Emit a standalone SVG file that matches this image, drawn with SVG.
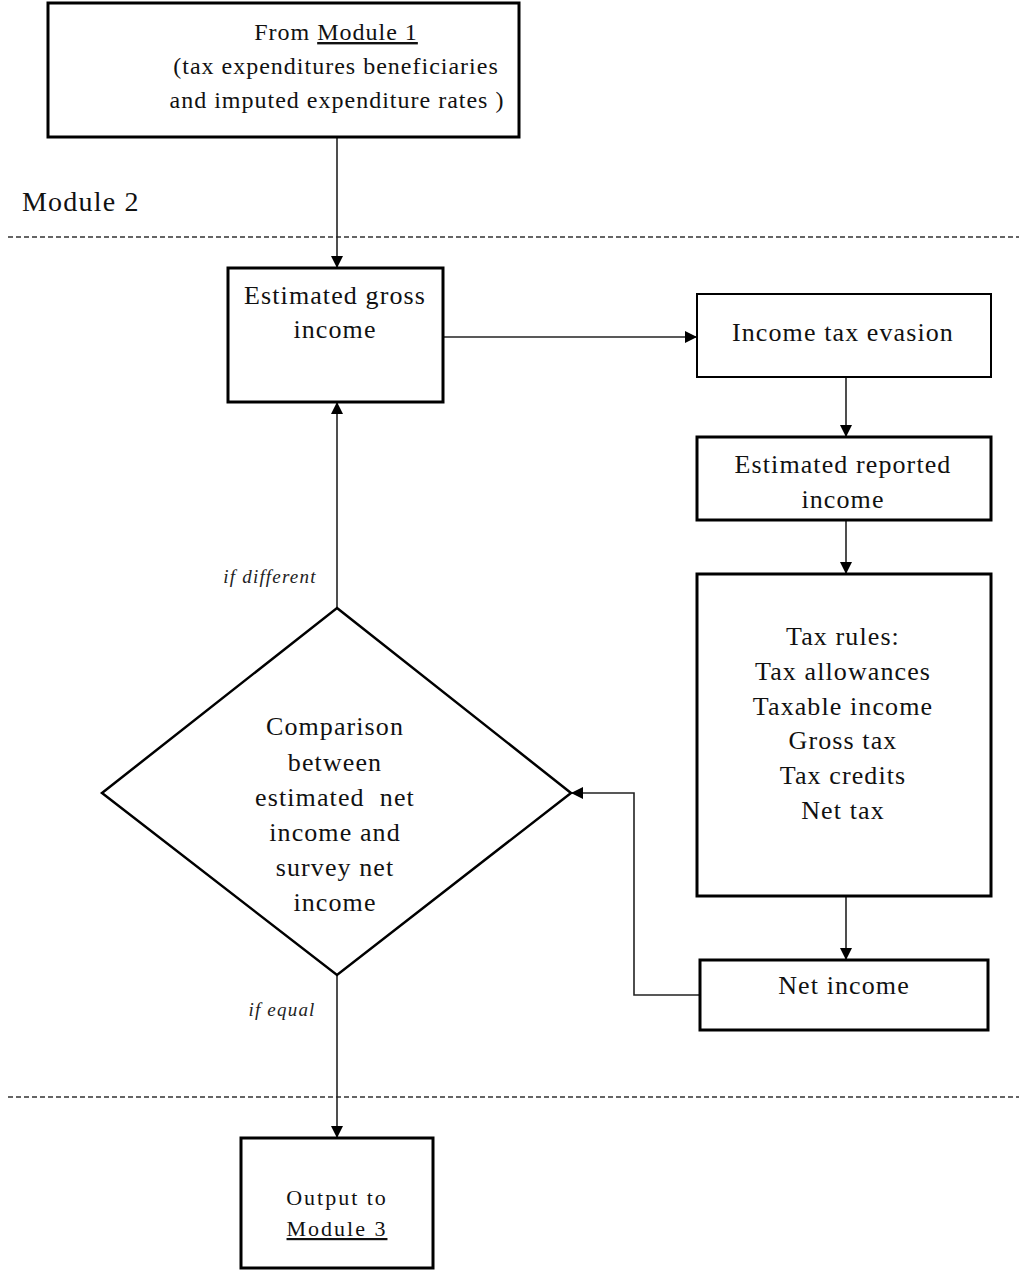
<svg xmlns="http://www.w3.org/2000/svg" width="1019" height="1271" viewBox="0 0 1019 1271">
<style>
.box{fill:#fff;stroke:#000;stroke-width:3}
.thin{fill:#fff;stroke:#000;stroke-width:2}
text{font-family:'Liberation Serif','DejaVu Serif',serif;fill:#111}
.t{font-size:26px;letter-spacing:1.1px;text-anchor:middle}
.ts{font-size:24px;letter-spacing:1px;text-anchor:middle}
.it{font-size:19px;font-style:italic;letter-spacing:1.2px;fill:#222;text-anchor:middle}
.out{font-size:22px;letter-spacing:2px;text-anchor:middle}
.lbl{font-size:28px;letter-spacing:1.2px}
.conn{fill:none;stroke:#222;stroke-width:1.6}
.dash{fill:none;stroke:#333;stroke-width:1.6;stroke-dasharray:5 3}
</style>
<defs>
<marker id="arr" viewBox="0 0 10 10" refX="10" refY="5" markerWidth="13" markerHeight="12" markerUnits="userSpaceOnUse" orient="auto">
<path d="M0,0 L10,5 L0,10 z" fill="#000"/>
</marker>
</defs>
<rect width="1019" height="1271" fill="#fff"/>

<line class="dash" x1="8" y1="237" x2="1019" y2="237"/>
<line class="dash" x1="8" y1="1097" x2="1019" y2="1097"/>
<text class="lbl" x="22" y="211" font-family="Liberation Serif, serif">Module 2</text>

<g id="connectors">
<line class="conn" x1="337" y1="138" x2="337" y2="268" marker-end="url(#arr)"/>
<line class="conn" x1="443" y1="337" x2="697" y2="337" marker-end="url(#arr)"/>
<line class="conn" x1="846" y1="377" x2="846" y2="437" marker-end="url(#arr)"/>
<line class="conn" x1="846" y1="520" x2="846" y2="574" marker-end="url(#arr)"/>
<line class="conn" x1="846" y1="896" x2="846" y2="960" marker-end="url(#arr)"/>
<polyline class="conn" points="700,995 634,995 634,793 571,793" marker-end="url(#arr)"/>
<line class="conn" x1="337" y1="608" x2="337" y2="402" marker-end="url(#arr)"/>
<line class="conn" x1="337" y1="975" x2="337" y2="1138" marker-end="url(#arr)"/>
<text class="it" x="270" y="583">if different</text>
<text class="it" x="282" y="1016">if equal</text>
</g>

<g id="module1">
<rect class="box" x="48" y="3" width="471" height="134"/>
<text class="ts" x="336" y="40">From <tspan text-decoration="underline">Module 1</tspan></text>
<text class="ts" x="336" y="74">(tax expenditures beneficiaries</text>
<text class="ts" x="337" y="108">and imputed expenditure rates )</text>
</g>

<g id="gross">
<rect class="box" x="228" y="268" width="215" height="134"/>
<text class="t" x="335" y="304">Estimated gross</text>
<text class="t" x="335" y="338">income</text>
</g>

<g id="evasion">
<rect class="thin" x="697" y="294" width="294" height="83"/>
<text class="t" x="843" y="341">Income tax evasion</text>
</g>

<g id="reported">
<rect class="box" x="697" y="437" width="294" height="83"/>
<text class="t" x="843" y="473">Estimated reported</text>
<text class="t" x="843" y="508">income</text>
</g>

<g id="taxrules">
<rect class="box" x="697" y="574" width="294" height="322"/>
<text class="t" x="843" y="645">Tax rules:</text>
<text class="t" x="843" y="680">Tax allowances</text>
<text class="t" x="843" y="715">Taxable income</text>
<text class="t" x="843" y="749">Gross tax</text>
<text class="t" x="843" y="784">Tax credits</text>
<text class="t" x="843" y="819">Net tax</text>
</g>

<g id="netincome">
<rect class="box" x="700" y="960" width="288" height="70"/>
<text class="t" x="844" y="994">Net income</text>
</g>

<g id="comparison">
<polygon points="337,608 571,793 337,975 102,793" fill="#fff" stroke="#000" stroke-width="2.5"/>
<text class="t" x="335" y="735">Comparison</text>
<text class="t" x="335" y="771">between</text>
<text class="t" x="335" y="806" xml:space="preserve">estimated  net</text>
<text class="t" x="335" y="841">income and</text>
<text class="t" x="335" y="876">survey net</text>
<text class="t" x="335" y="911">income</text>
</g>

<g id="output">
<rect class="box" x="241" y="1138" width="192" height="130"/>
<text class="out" x="337" y="1205">Output to</text>
<text class="out" x="337" y="1236" text-decoration="underline">Module 3</text>
</g>
</svg>
